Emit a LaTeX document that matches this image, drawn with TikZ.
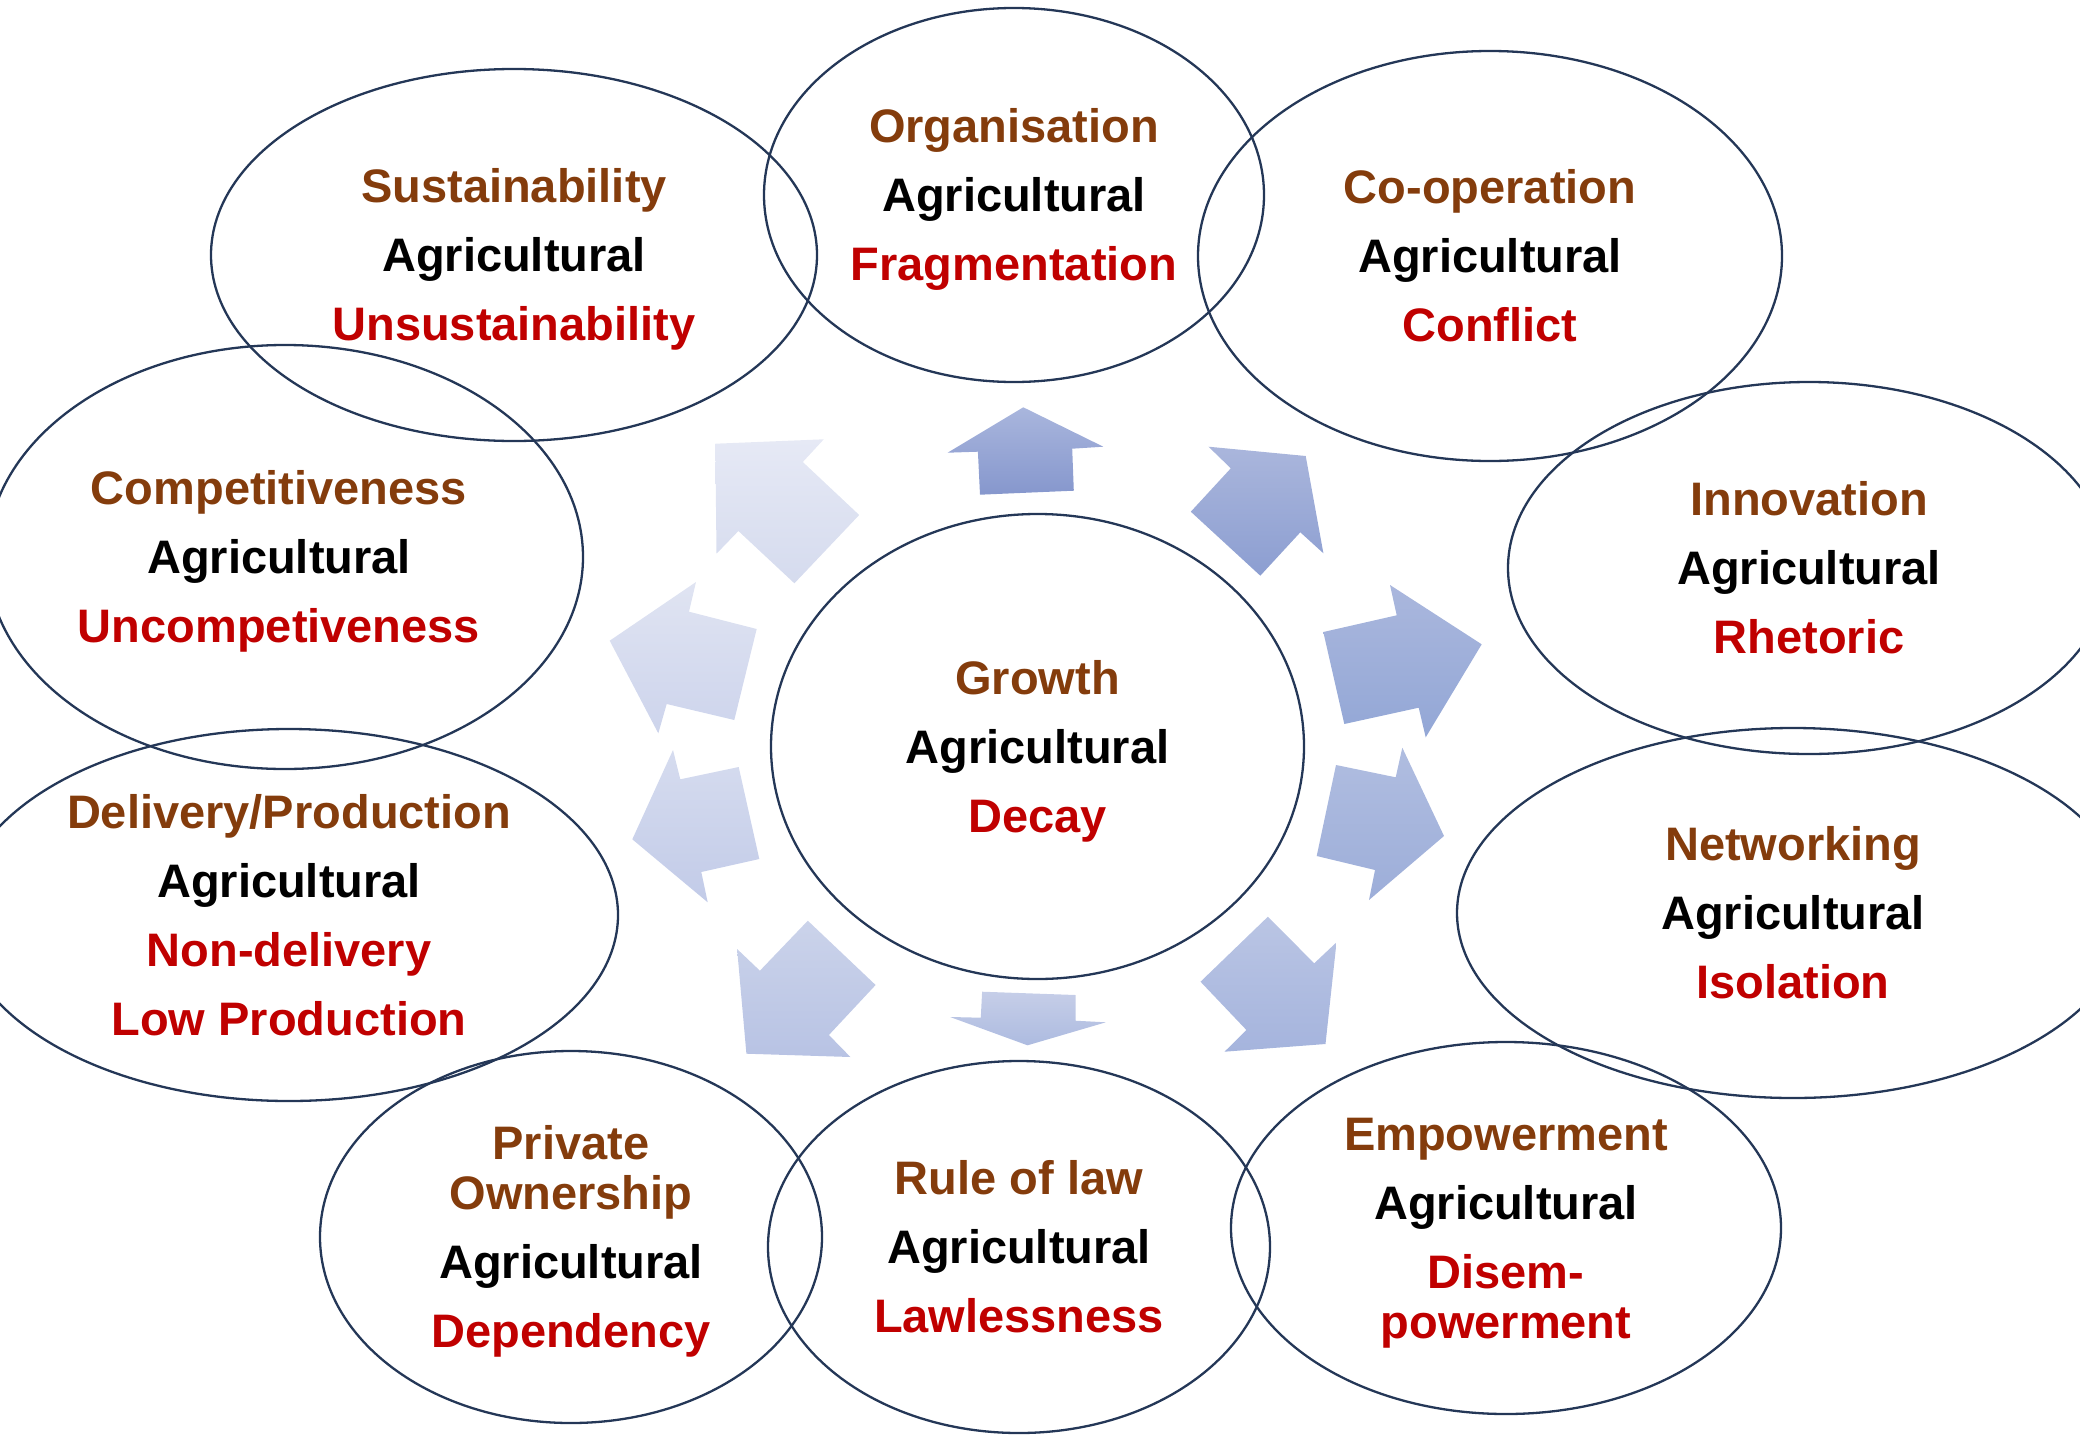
\documentclass[tikz,border=0pt]{standalone}
\usepackage{fontspec}
\setmainfont{Liberation Sans}
\usetikzlibrary{shapes.geometric}
\definecolor{brn}{HTML}{843C0C}
\definecolor{rd}{HTML}{C00000}
\definecolor{edgec}{HTML}{243757}
\newcommand{\lnBrown}[1]{\textcolor{brn}{#1\strut}}
\newcommand{\lnBlack}[1]{\textcolor{black}{#1\strut}}
\newcommand{\lnRed}[1]{\textcolor{rd}{#1\strut}}
\tikzset{
  bubble/.style={ellipse, draw=edgec, line width=2.3pt, inner sep=0pt},
  txt/.style={align=center, inner sep=0pt, yshift=-3pt, font=\fontsize{47}{69}\selectfont\bfseries},
}
\begin{document}
\begin{tikzpicture}[x=1pt,y=-1pt]
\useasboundingbox (0,0) rectangle (2080,1440);
% arrows
\shade[top color={rgb,255:red,169;green,182;blue,221}, bottom color={rgb,255:red,134;green,151;blue,205}]
  (947.6,452.7) -- (977.9,451.7) -- (980.0,494.7) -- (1073.8,490.7) -- (1072.2,448.7) -- (1103.3,446.7) -- (1023.3,407.3) -- cycle;
\shade[top color={rgb,255:red,170;green,182;blue,220}, bottom color={rgb,255:red,140;green,158;blue,209}]
  (1208.5,446.7) -- (1305.7,456) -- (1323.4,553.3) -- (1300.3,532.3) -- (1260.3,575.7) -- (1190.8,511.7) -- (1230.8,468.3) -- cycle;
\shade[top color={rgb,255:red,170;green,183;blue,221}, bottom color={rgb,255:red,147;green,167;blue,214}]
  (1323.3,632) -- (1396.7,615.3) -- (1390,585) -- (1481.7,644.3) -- (1425.7,737.3) -- (1418.7,707.7) -- (1344.3,724) -- cycle;
\shade[top color={rgb,255:red,176;green,189;blue,224}, bottom color={rgb,255:red,157;green,174;blue,217}]
  (1336,765) -- (1395.7,777.3) -- (1402.3,747.7) -- (1444,836) -- (1369,900) -- (1375,870) -- (1316.7,856) -- cycle;
\shade[top color={rgb,255:red,186;green,197;blue,228}, bottom color={rgb,255:red,165;green,180;blue,221}]
  (1267.9,916.7) -- (1314.2,963.3) -- (1336.5,942.3) -- (1325.5,1044) -- (1224.5,1051.7) -- (1246.4,1030) -- (1200.5,981.7) -- cycle;
\shade[top color={rgb,255:red,198;green,206;blue,232}, bottom color={rgb,255:red,173;green,187;blue,224}]
  (982.1,991.7) -- (1075.5,995) -- (1075.5,1020.7) -- (1105.8,1022.3) -- (1027.5,1045.3) -- (950.1,1017) -- (980.8,1017.7) -- cycle;
\shade[top color={rgb,255:red,203;green,211;blue,234}, bottom color={rgb,255:red,184;green,195;blue,228}]
  (807.8,920.7) -- (875.6,985) -- (828.9,1035) -- (850.4,1057) -- (746.4,1053.7) -- (737.1,949) -- (759.9,970.7) -- cycle;
\shade[top color={rgb,255:red,214;green,220;blue,239}, bottom color={rgb,255:red,194;green,203;blue,232}]
  (632.3,839.3) -- (673,750) -- (680.3,779.3) -- (738.7,767) -- (759.3,859) -- (701.3,872) -- (707.7,902.3) -- cycle;
\shade[top color={rgb,255:red,224;green,228;blue,242}, bottom color={rgb,255:red,205;green,212;blue,236}]
  (609.7,640.7) -- (696,582) -- (689,611.7) -- (756.7,629) -- (734.3,720) -- (666.7,704) -- (658.3,733.3) -- cycle;
\shade[top color={rgb,255:red,230;green,233;blue,245}, bottom color={rgb,255:red,213;green,219;blue,238}]
  (715.3,443.7) -- (823.8,439.3) -- (802.8,462) -- (859.2,515) -- (794.4,583.3) -- (738.4,531) -- (716.5,553.7) -- cycle;
% ellipses
\node[bubble, minimum width=533pt, minimum height=465pt] (gro) at (1037.5,746.5) {};
\node[bubble, minimum width=500pt, minimum height=374pt] (org) at (1014,195) {};
\node[bubble, minimum width=606pt, minimum height=372pt] (sus) at (514,255) {};
\node[bubble, minimum width=584pt, minimum height=410pt] (coo) at (1490,256) {};
\node[bubble, minimum width=596pt, minimum height=424pt] (com) at (285,557) {};
\node[bubble, minimum width=602pt, minimum height=372pt] (inn) at (1809,568) {};
\node[bubble, minimum width=658pt, minimum height=372pt] (del) at (289,915) {};
\node[bubble, minimum width=672pt, minimum height=370pt] (net) at (1793,913) {};
\node[bubble, minimum width=502pt, minimum height=372pt] (pri) at (571,1237) {};
\node[bubble, minimum width=502pt, minimum height=372pt] (rul) at (1019,1247) {};
\node[bubble, minimum width=550pt, minimum height=372pt] (emp) at (1506,1228) {};
% texts
\node[txt] (gro-t) at (gro) {\lnBrown{Growth}\\ \lnBlack{Agricultural}\\ \lnRed{Decay}};
\node[txt] (org-t) at (org) {\lnBrown{Organisation}\\ \lnBlack{Agricultural}\\ \lnRed{Fragmentation}};
\node[txt] (sus-t) at (sus) {\lnBrown{Sustainability}\\ \lnBlack{Agricultural}\\ \lnRed{Unsustainability}};
\node[txt] (coo-t) at (coo) {\lnBrown{Co-operation}\\ \lnBlack{Agricultural}\\ \lnRed{Conflict}};
\node[txt, xshift=-6pt] (com-t) at (com) {\lnBrown{Competitiveness}\\ \lnBlack{Agricultural}\\ \lnRed{Uncompetiveness}};
\node[txt] (inn-t) at (inn) {\lnBrown{Innovation}\\ \lnBlack{Agricultural}\\ \lnRed{Rhetoric}};
\node[txt] (del-t) at (del) {\lnBrown{Delivery/Production}\\ \lnBlack{Agricultural}\\ \lnRed{Non-delivery}\\ \lnRed{Low Production}};
\node[txt] (net-t) at (net) {\lnBrown{Networking}\\ \lnBlack{Agricultural}\\ \lnRed{Isolation}};
\node[txt] (pri-t) at (pri) {\lnBrown{Private}\\[-19pt] \lnBrown{Ownership}\\ \lnBlack{Agricultural}\\ \lnRed{Dependency}};
\node[txt] (rul-t) at (rul) {\lnBrown{Rule of law}\\ \lnBlack{Agricultural}\\ \lnRed{Lawlessness}};
\node[txt] (emp-t) at (emp) {\lnBrown{Empowerment}\\ \lnBlack{Agricultural}\\ \lnRed{Disem-}\\[-19pt] \lnRed{powerment}};
\end{tikzpicture}
\end{document}
